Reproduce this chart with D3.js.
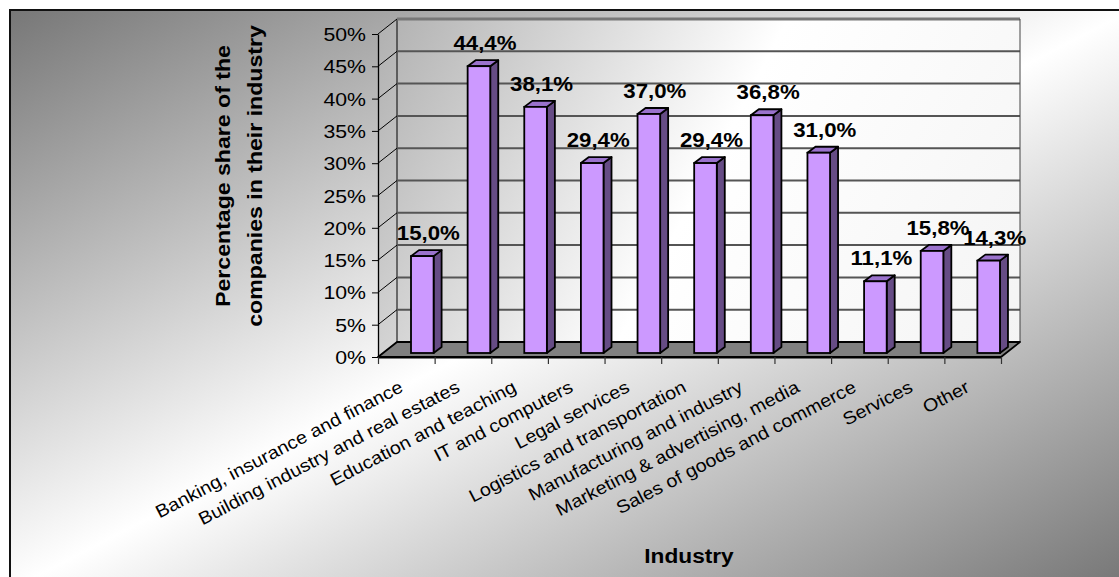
<!DOCTYPE html>
<html>
<head>
<meta charset="utf-8">
<script src="https://cdn.jsdelivr.net/npm/d3@7"></script>
<style>
  html, body { margin: 0; padding: 0; background: #fff; }
  svg { display: block; font-family: Arial, "Liberation Sans", sans-serif; }
</style>
</head>
<body>
<svg id="chart" width="1119" height="577"></svg>
<script>
// Share of companies per industry (percent)
const categories = [
  "Banking, insurance and finance",
  "Building industry and real estates",
  "Education and teaching",
  "IT and computers",
  "Legal services",
  "Logistics and transportation",
  "Manufacturing and industry",
  "Marketing & advertising, media",
  "Sales of goods and commerce",
  "Services",
  "Other"
];
const shares = [15.0, 44.4, 38.1, 29.4, 37.0, 29.4, 36.8, 31.0, 11.1, 15.8, 14.3];
const yTicks = [0, 5, 10, 15, 20, 25, 30, 35, 40, 45, 50];
const yTickLabels = ["0%", "5%", "10%", "15%", "20%", "25%", "30%", "35%", "40%", "45%", "50%"];
const yTitleLines = ["Percentage share of the", "companies in their industry"];
const xTitle = "Industry";

const svg = d3.select("#chart");
const defs = svg.append("defs");

// plot geometry (front plane) and the oblique depth offset of the back wall
const plot = { left: 378, right: 1001, top: 34, bottom: 357 };
const depth = { dx: 19, dy: -15 };
// bar placement in depth: front face offset and side depth
const barFront = { dx: 5, dy: -4 };
const barSide = { dx: 8, dy: -6 };
const barInset = 33, barWidth = 22.6;

const y = d3.scaleLinear().domain([0, 50]).range([plot.bottom, plot.top]);
const x = d3.scaleBand().domain(categories).range([plot.left, plot.right]).padding(0);
const xIdx = d3.scaleLinear().domain([0, categories.length]).range([plot.left, plot.right]);

// gradients
const bg = defs.append("linearGradient").attr("id", "bgGrad")
  .attr("x1", 0).attr("y1", 0).attr("x2", 1).attr("y2", 1);
bg.append("stop").attr("offset", 0).attr("stop-color", "#777777");
bg.append("stop").attr("offset", 0.5).attr("stop-color", "#ffffff");
bg.append("stop").attr("offset", 1).attr("stop-color", "#747474");

const wallGrad = defs.append("linearGradient").attr("id", "wallGrad")
  .attr("gradientUnits", "userSpaceOnUse")
  .attr("x1", plot.left).attr("y1", plot.top + depth.dy)
  .attr("x2", plot.right + depth.dx).attr("y2", plot.bottom);
wallGrad.append("stop").attr("offset", 0).attr("stop-color", "#b0b0b0");
wallGrad.append("stop").attr("offset", 0.5).attr("stop-color", "#ffffff");
wallGrad.append("stop").attr("offset", 1).attr("stop-color", "#f4f4f4");

// chart area
svg.append("rect")
  .attr("x", 10).attr("y", 10).attr("width", 1122).attr("height", 580)
  .attr("fill", "url(#bgGrad)").attr("stroke", "#111").attr("stroke-width", 2);

// walls
const bx0 = plot.left + depth.dx, bx1 = plot.right + depth.dx;
const byTop = plot.top + depth.dy, byBot = plot.bottom + depth.dy;
const walls = svg.append("g");
walls.append("path")
  .attr("d", `M${plot.left},${plot.top}L${bx0},${byTop}L${bx0},${byBot}L${plot.left},${plot.bottom}Z`)
  .attr("fill", "url(#wallGrad)");
walls.append("rect")
  .attr("x", bx0).attr("y", byTop).attr("width", bx1 - bx0).attr("height", byBot - byTop)
  .attr("fill", "url(#wallGrad)");

// gridlines on the back and side walls
const grid = svg.append("g");
yTicks.forEach(v => {
  const yy = y(v);
  const top = v === 50;
  grid.append("line")
    .attr("x1", bx0).attr("x2", bx1).attr("y1", yy + depth.dy).attr("y2", yy + depth.dy)
    .attr("stroke", top ? "#777" : "#555").attr("stroke-width", top ? 3 : 2);
  grid.append("line")
    .attr("x1", plot.left).attr("y1", yy).attr("x2", bx0).attr("y2", yy + depth.dy)
    .attr("stroke", "#000").attr("stroke-width", 1);
});
walls.append("line").attr("x1", bx0).attr("x2", bx0).attr("y1", byTop).attr("y2", byBot)
  .attr("stroke", "#000").attr("stroke-width", 1);
svg.append("line").attr("x1", bx1).attr("x2", bx1).attr("y1", byTop).attr("y2", byBot)
  .attr("stroke", "#444").attr("stroke-width", 1);

// floor
svg.append("path")
  .attr("d", `M${plot.left},${plot.bottom}L${bx0},${byBot}L${bx1},${byBot}L${plot.right},${plot.bottom}Z`)
  .attr("fill", "#808080").attr("stroke", "#000").attr("stroke-width", 1.8)
  .attr("stroke-linejoin", "round");

// value axis
const yAxis = svg.append("g")
  .attr("transform", `translate(${plot.left},0)`)
  .call(d3.axisLeft(y).tickValues(yTicks).tickFormat((d, i) => yTickLabels[i]).tickSize(6).tickSizeOuter(0));
yAxis.select(".domain").attr("stroke", "#000").attr("stroke-width", 1.3);
yAxis.selectAll(".tick line").attr("stroke", "#000").attr("stroke-width", 1);
yAxis.selectAll(".tick text")
  .attr("x", 0).attr("dy", null)
  .attr("transform", "translate(-12,6.5) scale(1.12,1)")
  .attr("font-size", 19).attr("fill", "#000")
  .attr("font-family", "Arial, 'Liberation Sans', sans-serif");

// category axis: ticks on band boundaries
const xAxis = svg.append("g")
  .attr("transform", `translate(0,${plot.bottom})`)
  .call(d3.axisBottom(xIdx).tickValues(d3.range(categories.length + 1)).tickFormat("").tickSize(7).tickSizeOuter(0));
xAxis.select(".domain").attr("stroke", "#000").attr("stroke-width", 1.8);
xAxis.selectAll(".tick line").attr("stroke", "#333").attr("stroke-width", 1.2);

// category labels
svg.append("g").selectAll("text")
  .data(categories)
  .join("text")
  .attr("transform", d => `translate(${x(d) + x.bandwidth() / 2 - 2},391) rotate(-27.5) scale(1.1,1)`)
  .attr("text-anchor", "end")
  .attr("font-size", 18)
  .attr("fill", "#000")
  .text(d => d);

// 3D columns
const bars = svg.append("g").selectAll("g")
  .data(categories.map((c, i) => ({ c, v: shares[i] })))
  .join("g");

const fx0 = d => x(d.c) + barInset;
const fx1 = d => x(d.c) + barInset + barWidth;
const fyTop = d => y(d.v) + barFront.dy;
const fyBot = () => y(0) + barFront.dy;

bars.append("path") // side face
  .attr("d", d => `M${fx1(d)},${fyTop(d)}L${fx1(d) + barSide.dx},${fyTop(d) + barSide.dy}` +
    `L${fx1(d) + barSide.dx},${fyBot() + barSide.dy}L${fx1(d)},${fyBot()}Z`)
  .attr("fill", "#664c85").attr("stroke", "#000").attr("stroke-width", 1.8).attr("stroke-linejoin", "round");
bars.append("path") // top face
  .attr("d", d => `M${fx0(d)},${fyTop(d)}L${fx0(d) + barSide.dx},${fyTop(d) + barSide.dy}` +
    `L${fx1(d) + barSide.dx},${fyTop(d) + barSide.dy}L${fx1(d)},${fyTop(d)}Z`)
  .attr("fill", "#9a72cc").attr("stroke", "#000").attr("stroke-width", 1.8).attr("stroke-linejoin", "round");
bars.append("rect") // front face
  .attr("x", fx0).attr("y", fyTop)
  .attr("width", barWidth).attr("height", d => fyBot() - fyTop(d))
  .attr("fill", "#cc99ff").attr("stroke", "#000").attr("stroke-width", 1.8);

// value labels
const fmt = d3.format(".1f");
bars.append("text")
  .attr("transform", d => `translate(${(fx0(d) + fx1(d)) / 2 + 6},${fyTop(d) - 16}) scale(1.06,1)`)
  .attr("text-anchor", "middle")
  .attr("font-size", 21).attr("font-weight", "bold").attr("fill", "#000")
  .text(d => fmt(d.v).replace(".", ",") + "%");

// axis titles
svg.append("g").selectAll("text")
  .data(yTitleLines)
  .join("text")
  .attr("transform", (d, i) => `translate(${230 + i * 32},176) rotate(-90) scale(1.1,1)`)
  .attr("text-anchor", "middle")
  .attr("font-size", 21).attr("font-weight", "bold").attr("fill", "#000")
  .text(d => d);

svg.append("text")
  .attr("transform", `translate(689,563) scale(1.08,1)`)
  .attr("text-anchor", "middle")
  .attr("font-size", 21).attr("font-weight", "bold").attr("fill", "#000")
  .text(xTitle);
</script>
</body>
</html>
